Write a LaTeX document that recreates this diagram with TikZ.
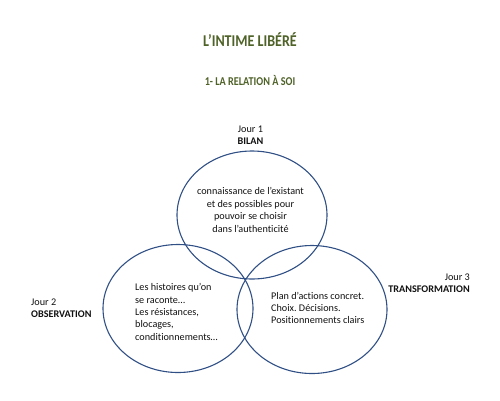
\documentclass[tikz,border=0pt]{standalone}
\usepackage{fontspec}
\setmainfont[Ligatures=NoCommon]{Carlito}
\newfontfamily\titlefont[FakeStretch=0.85]{Carlito}
\usetikzlibrary{shapes.geometric}
\definecolor{titlegreen}{HTML}{4F6228}
\definecolor{ringblue}{HTML}{2F4F85}
\definecolor{bodytext}{HTML}{111111}
\frenchspacing
\begin{document}
\frenchspacing
\begin{tikzpicture}[x=1pt,y=-1pt,
  ring/.style={draw=ringblue, line width=1.1pt, ellipse, minimum width=150pt, minimum height=128pt, inner sep=0pt},
  body/.style={font=\fontsize{10.2}{12.4}\selectfont, text=bodytext, inner sep=0pt},
  titletext/.style={font=\titlefont\bfseries, text=titlegreen, inner sep=0pt}]
\useasboundingbox (0,0) rectangle (500,400);
\node[titletext, font=\titlefont\bfseries\fontsize{16.5}{18}\selectfont] (title) at (250,40) {L’INTIME LIBÉRÉ};
\node[titletext, font=\titlefont\bfseries\fontsize{12}{14}\selectfont] (subtitle) at (250,80) {1- LA RELATION À SOI};
\node[ring] (top) at (252,215) {};
\node[ring] (left) at (178,308.5) {};
\node[ring] (right) at (312,309.5) {};
\node[body, align=center] (toptext) at (250.5,210) {connaissance de l’existant\\et des possibles pour\\pouvoir se choisir\\dans l’authenticité};
\node[body, align=left, anchor=west] (lefttext) at (135,312) {Les histoires qu’on\\se raconte…\\Les résistances,\\blocages,\\conditionnements…};
\node[body, align=left, anchor=west] (righttext) at (271,308) {Plan d’actions concret.\\Choix. Décisions.\\Positionnements clairs};
\node[body, align=center] (jour1) at (250.5,135) {Jour 1\\\textbf{BILAN}};
\node[body, align=left, anchor=west] (jour2) at (31,308) {Jour 2\\\textbf{OBSERVATION}};
\node[body, align=right, anchor=east] (jour3) at (470,283) {Jour 3\\\textbf{TRANSFORMATION}};
\end{tikzpicture}
\end{document}
